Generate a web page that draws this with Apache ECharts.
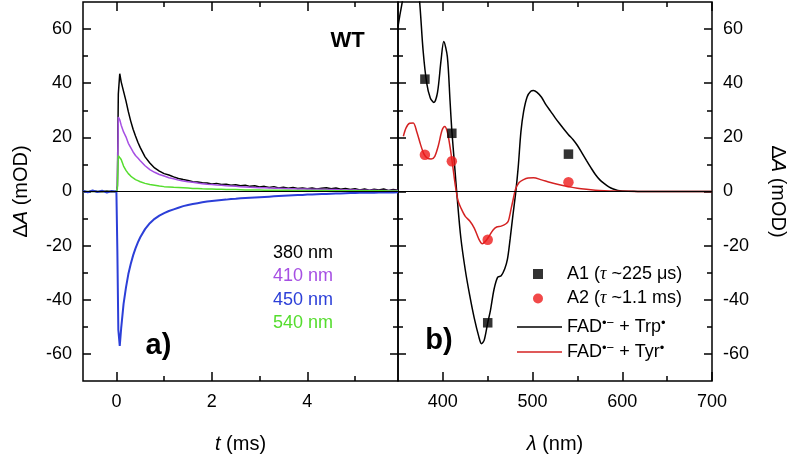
<!DOCTYPE html>
<html><head><meta charset="utf-8">
<script src="https://cdn.jsdelivr.net/npm/echarts@6/dist/echarts.min.js"></script>
<style>html,body{margin:0;padding:0;background:#fff}#c{width:795px;height:459px}</style>
</head><body><div id="c"></div>
<script>
// ---------- Panel a) kinetic traces ----------
const timeMs = [-0.7,-0.6,-0.5,-0.4,-0.3,-0.2,-0.1,0,
  0.02,0.04,0.07,0.1,
  0.15,0.2,0.25,0.3,0.35,0.4,0.45,0.5,
  0.6,0.7,0.8,0.9,1.0,
  1.1,1.2,1.3,1.4,1.5,1.6,1.7,1.8,1.9,2.0,
  2.1,2.2,2.3,2.4,2.5,2.6,2.7,2.8,2.9,3.0,
  3.1,3.2,3.3,3.4,3.5,3.6,3.7,3.8,3.9,4.0,
  4.1,4.2,4.3,4.4,4.5,4.6,4.7,4.8,4.9,5.0,
  5.1,5.2,5.3,5.4,5.5,5.6,5.7,5.8,5.9];
const trace380 = [0.1,-0.2,0.2,0,-0.1,0.2,-0.1,0,
  2,36,43.5,40.5,
  37,33.5,29.5,26,23,20.5,18.2,16.2,
  12.8,10.5,8.7,7.5,6.6,
  6.1,5.4,4.8,4.4,4.1,3.6,3.5,3.2,3.1,2.8,
  3.0,2.6,2.7,2.3,2.5,2.1,2.3,1.9,2.1,1.7,
  1.9,1.5,1.8,1.3,1.6,1.2,1.5,1.1,1.3,1.0,
  1.3,0.9,1.2,1.4,1.0,1.3,0.8,1.1,0.7,1.0,
  0.6,0.9,0.5,0.8,0.6,0.9,0.4,0.7,0.5];
const trace410 = [0,0,0,0,0,0,0,0,
  2,27.5,26.5,24.5,
  22,20.2,17.8,16.2,14.6,13.3,12.4,11.4,
  9.5,8.1,7.1,6.3,5.7,
  5.1,4.7,4.2,3.9,3.6,3.4,3.1,2.9,2.7,2.6,
  2.4,2.3,2.1,2.0,1.9,1.8,1.7,1.6,1.5,1.4,
  1.4,1.3,1.2,1.2,1.1,1.0,1.0,0.9,0.9,0.9,
  0.8,0.8,0.8,0.7,0.7,0.7,0.6,0.6,0.6,0.6,
  0.5,0.5,0.5,0.5,0.4,0.4,0.4,0.4,0.4];
const trace540 = [0,0,0,0,0,0,0,0,
  1,13.2,13.7,11.8,
  9.4,7.8,6.6,5.7,5.0,4.4,4.0,3.6,
  3.0,2.6,2.3,2.0,1.8,
  1.7,1.55,1.45,1.35,1.25,1.15,1.1,1.0,0.95,0.9,
  0.85,0.8,0.75,0.7,0.7,0.65,0.6,0.6,0.55,0.55,
  0.5,0.5,0.5,0.45,0.45,0.45,0.4,0.4,0.4,0.4,
  0.35,0.35,0.35,0.35,0.3,0.3,0.3,0.3,0.3,0.3,
  0.3,0.25,0.25,0.25,0.25,0.25,0.2,0.2,0.2];
const trace450 = [0.2,-0.3,0.4,-0.2,0.3,-0.4,0.2,-0.1,
  -22,-51,-57,-50.5,
  -41.5,-35.5,-30.5,-26.8,-23.6,-21,-18.8,-16.9,
  -13.9,-11.7,-10.1,-8.9,-8.0,
  -7.2,-6.6,-6.0,-5.4,-5.0,-4.6,-4.3,-4.0,-3.7,-3.5,
  -3.3,-3.1,-3.0,-2.8,-2.7,-2.5,-2.4,-2.3,-2.2,-2.1,
  -2.0,-1.9,-1.8,-1.7,-1.6,-1.5,-1.4,-1.3,-1.25,-1.15,
  -1.1,-1.0,-0.95,-0.9,-0.8,-0.75,-0.7,-0.65,-0.6,-0.55,
  -0.5,-0.5,-0.45,-0.45,-0.4,-0.4,-0.35,-0.35,-0.3];

// ---------- Panel b) spectra ----------
const lamTrp = [350,352,355,358,362,366,370,374,378,382,
  386,390,394,398,401,405,408,410,413,416,
  420,425,430,435,440,443,446,450,453,457,
  461,465,469,472,475,478,481,484,487,490,
  494,498,501,505,510,515,520,525,530,535,
  540,545,550,555,560,565,570,575,580,585,
  590,595,600,610,620,650,700];
const specTrp = [60.9,65,70.5,78,85,88,82,70.5,52,40,
  34.5,32.9,36.5,48.5,55.4,49.8,33.5,22.5,10,-2.5,
  -17,-29,-38.5,-46.8,-53.5,-56.2,-55,-48.5,-44,-36.2,
  -31.7,-31.1,-28.5,-25,-17.5,-9,-1,9,22,29.5,
  35,37,37.3,36.6,34.8,32,29.7,27.3,25.1,23,
  21,19.2,17,14.3,11.5,8.8,6.3,4.3,2.9,1.7,
  0.9,0.4,0.2,0.1,0,0,0];
const lamTyr = [356,359,363,367,371,375,379,383,387,391,
  395,399,402,405,408,411,414,417,420,425,
  430,435,440,444,448,452,456,460,465,470,
  473,476,478,481,485,490,495,501,510,520,
  530,540,550,560,570,580,590,600,620,650,700];
const specTyr = [20.4,23.5,25.2,25.3,22,17.5,13.8,12.2,12,13,
  17,22.5,24,22,16.5,9.5,2,-3.5,-6,-9.2,
  -10.9,-13.5,-17.5,-19.3,-18.2,-16.3,-14.2,-13.1,-12.8,-12,
  -10.9,-6.5,-3.5,0.8,3.3,4.4,5,5.1,4.3,3.3,
  2.5,1.8,1.2,0.8,0.5,0.3,0.15,0.1,0,0,0];
const ampLam = [380,410,450,540];
const ampA1 = [41.5,21.5,-48.5,13.8];
const ampA2 = [13.6,11.2,-17.8,3.4];

// ---------- tick labels ----------
const tTicks = [0,2,4], tMinor = [1,3,5];
const lamTicks = [400,500,600,700], lamMinor = [450,550,650];
const yTicks = [-60,-40,-20,0,20,40,60], yMinor = [-50,-30,-10,10,30,50];

const FONT = '"Liberation Sans", Arial, Helvetica, sans-serif';
const pairs = (xs, ys) => xs.map((x, i) => [x, ys[i]]);

function axis(kind, grid, pos, min, max, vals, len, showLabel, extra) {
  const a = {
    type: 'value', gridIndex: grid, position: pos, min: min, max: max,
    axisLine: {show: false, onZero: false},
    splitLine: {show: false},
    axisTick: {show: true, inside: true, length: len, customValues: vals,
               lineStyle: {color: '#000', width: 1.5}},
    axisLabel: showLabel
      ? {show: true, customValues: vals, fontSize: 18, color: '#000', fontFamily: FONT, margin: kind === 'x' ? 12 : 11}
      : {show: false}
  };
  return Object.assign(a, extra || {});
}

const nameStyle = {
  fontSize: 20, fontFamily: FONT, color: '#000',
  rich: {
    n: {fontSize: 20, fontFamily: FONT, color: '#000'},
    i: {fontSize: 20, fontFamily: FONT, color: '#000', fontStyle: 'italic'}
  }
};

const xAxes = [
  axis('x', 0, 'bottom', -0.7, 5.9, tTicks, 9, true,
       {name: '{i|t}{n| (ms)}', nameLocation: 'middle', nameGap: 53, nameTextStyle: nameStyle}),
  axis('x', 0, 'bottom', -0.7, 5.9, tMinor, 5, false),
  axis('x', 0, 'top', -0.7, 5.9, tTicks, 9, false),
  axis('x', 0, 'top', -0.7, 5.9, tMinor, 5, false),
  axis('x', 1, 'bottom', 350, 700, lamTicks, 9, true,
       {name: '{i|λ}{n| (nm)}', nameLocation: 'middle', nameGap: 53, nameTextStyle: nameStyle}),
  axis('x', 1, 'bottom', 350, 700, lamMinor, 5, false),
  axis('x', 1, 'top', 350, 700, lamTicks, 9, false),
  axis('x', 1, 'top', 350, 700, lamMinor, 5, false)
];
const yName = '{n|Δ}{i|A}{n| (mOD)}';
const yAxes = [
  axis('y', 0, 'left', -70, 70, yTicks, 8, true,
       {name: yName, nameLocation: 'middle', nameGap: 52, nameTextStyle: nameStyle}),
  axis('y', 0, 'left', -70, 70, yMinor, 5, false),
  axis('y', 0, 'right', -70, 70, yTicks, 8, false),
  axis('y', 0, 'right', -70, 70, yMinor, 5, false),
  axis('y', 1, 'left', -70, 70, yTicks, 8, false),
  axis('y', 1, 'left', -70, 70, yMinor, 5, false),
  axis('y', 1, 'right', -70, 70, yTicks, 8, true,
       {name: yName, nameLocation: 'middle', nameGap: 56, nameRotate: -90, nameTextStyle: nameStyle}),
  axis('y', 1, 'right', -70, 70, yMinor, 5, false)
];

const zeroLine = {silent: true, symbol: 'none', label: {show: false}, animation: false,
  lineStyle: {color: '#000', width: 1.2, type: 'solid'}, data: [{yAxis: 0}]};

function trace(name, xs, ys, color, width, xi, yi, extra) {
  return Object.assign({
    type: 'line', name: name, xAxisIndex: xi, yAxisIndex: yi,
    data: pairs(xs, ys), symbol: 'none', showSymbol: false,
    lineStyle: {color: color, width: width}, itemStyle: {color: color},
    clip: true
  }, extra || {});
}

const series = [
  trace('380 nm', timeMs, trace380, '#000000', 1.5, 0, 0, {markLine: zeroLine}),
  trace('410 nm', timeMs, trace410, '#a64fe3', 1.5, 0, 0),
  trace('540 nm', timeMs, trace540, '#55dd2e', 1.5, 0, 0),
  trace('450 nm', timeMs, trace450, '#2c3fd8', 2, 0, 0),
  trace('Trp', lamTrp, specTrp, '#000000', 1.5, 4, 6, {smooth: 0.3, markLine: zeroLine}),
  trace('Tyr', lamTyr, specTyr, '#d42222', 1.5, 4, 6, {smooth: 0.3}),
  {type: 'scatter', name: 'A1', xAxisIndex: 4, yAxisIndex: 6, symbol: 'rect', symbolSize: 9.5,
   itemStyle: {color: '#000'}, data: pairs(ampLam, ampA1), z: 5},
  {type: 'scatter', name: 'A2', xAxisIndex: 4, yAxisIndex: 6, symbol: 'circle', symbolSize: 10.5,
   itemStyle: {color: '#ee1c1c'}, data: pairs(ampLam, ampA2), z: 5}
];

const legendNames = {
  'A1': '{r|A1 (}{g|τ}{r| ~225 μs)}',
  'A2': '{r|A2 (}{g|τ}{r| ~1.1 ms)}',
  'Trp': '{r|FAD}{s|•−}{r| + Trp}{s|•}',
  'Tyr': '{r|FAD}{s|•−}{r| + Tyr}{s|•}'
};
const legRich = {
  r: {fontSize: 18, fontFamily: FONT, color: '#000', lineHeight: 20},
  g: {fontSize: 18, fontFamily: '"Liberation Serif", "DejaVu Serif", serif', fontStyle: 'italic', color: '#000', lineHeight: 20},
  s: {fontSize: 13, fontFamily: FONT, color: '#000', verticalAlign: 'top', lineHeight: 20}
};

const option = {
  animation: false,
  backgroundColor: '#fff',
  grid: [
    {left: 83, top: 2, width: 315, height: 380, show: true, borderColor: '#000', borderWidth: 1.5, backgroundColor: 'transparent', containLabel: false},
    {left: 398, top: 2, width: 314, height: 380, show: true, borderColor: '#000', borderWidth: 1.5, backgroundColor: 'transparent', containLabel: false}
  ],
  xAxis: xAxes,
  yAxis: yAxes,
  legend: [
    {left: 268, top: 243, padding: 0, orient: 'vertical', icon: 'none', itemWidth: 0, itemHeight: 14, itemGap: 3.3,
     selectedMode: false,
     textStyle: {fontSize: 18, fontFamily: FONT, lineHeight: 20},
     data: [
       {name: '380 nm', textStyle: {color: '#000000'}},
       {name: '410 nm', textStyle: {color: '#a64fe3'}},
       {name: '450 nm', textStyle: {color: '#2c3fd8'}},
       {name: '540 nm', textStyle: {color: '#55dd2e'}}
     ]},
    {left: 533, top: 265, padding: 0, orient: 'vertical', itemWidth: 10, itemHeight: 10, itemGap: 6.5,
     selectedMode: false, data: ['A1', 'A2'],
     formatter: n => legendNames[n],
     textStyle: {padding: [0, 0, 0, 19], rich: legRich}},
    {left: 517, top: 317, padding: 0, orient: 'vertical', itemWidth: 45, itemHeight: 1.5, itemGap: 6,
     selectedMode: false, icon: 'rect',
     data: ['Trp', 'Tyr'],
     formatter: n => legendNames[n],
     textStyle: {rich: legRich}}
  ],
  graphic: [
    {type: 'text', x: 347.5, y: 41, silent: true,
     style: {text: 'WT', fontSize: 22, fontWeight: 'bold', fontFamily: FONT, fill: '#000', align: 'center', verticalAlign: 'middle'}},
    {type: 'text', x: 158.5, y: 346, silent: true,
     style: {text: 'a)', fontSize: 29, fontWeight: 'bold', fontFamily: FONT, fill: '#000', align: 'center', verticalAlign: 'middle'}},
    {type: 'text', x: 439, y: 341, silent: true,
     style: {text: 'b)', fontSize: 29, fontWeight: 'bold', fontFamily: FONT, fill: '#000', align: 'center', verticalAlign: 'middle'}}
  ],
  series: series
};

const chart = echarts.init(document.getElementById('c'), null, {renderer: 'canvas'});
chart.setOption(option);
</script>
</body></html>
